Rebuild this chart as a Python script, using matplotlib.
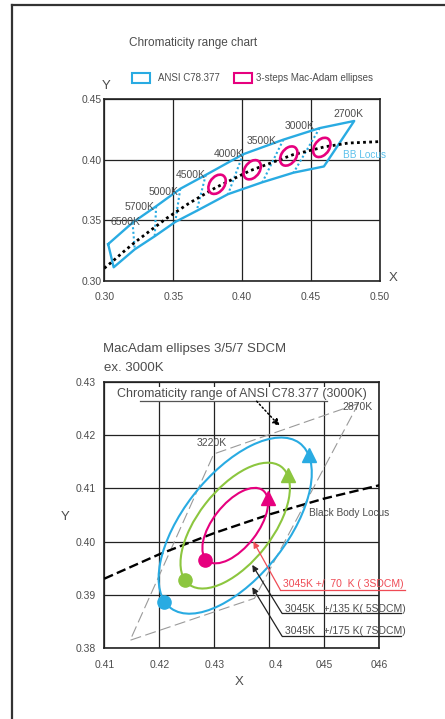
import matplotlib.pyplot as plt
from matplotlib.patches import Ellipse, Rectangle
from matplotlib.lines import Line2D
import matplotlib.transforms as mtransforms

plt.rcParams['font.family'] = ['Liberation Sans', 'DejaVu Sans']

W, H = 445, 719
BLUE = '#29abe2'
MAGENTA = '#e6007e'
GREEN = '#8cc63f'
RED = '#ef4b55'
TXT = '#4d4d4d'

# --- top chart data: ANSI C78.377 quadrangles (shared boundary points) ---
upper_x = [0.3028, 0.3205, 0.3376, 0.3551, 0.3736, 0.4006, 0.4299, 0.4562, 0.4813]
upper_y = [0.3304, 0.3481, 0.3616, 0.3760, 0.3874, 0.4044, 0.4165, 0.4260, 0.4319]
lower_x = [0.3068, 0.3221, 0.3366, 0.3515, 0.3670, 0.3898, 0.4147, 0.4373, 0.4593]
lower_y = [0.3113, 0.3261, 0.3369, 0.3487, 0.3578, 0.3716, 0.3814, 0.3893, 0.3944]
cct_labels = ['6500K', '5700K', '5000K', '4500K', '4000K', '3500K', '3000K', '2700K']
cct_lab_x = [0.3150, 0.3258, 0.3426, 0.3630, 0.3905, 0.4138, 0.4418, 0.4768]
cct_lab_y = [0.3484, 0.3610, 0.3734, 0.3874, 0.4044, 0.4151, 0.4280, 0.4374]

# planckian locus
bb_x = [0.3000, 0.3064, 0.3135, 0.3221, 0.3325, 0.3451, 0.3611, 0.3805, 0.4053, 0.4369, 0.4599, 0.4770, 0.5018]
bb_y = [0.3105, 0.3166, 0.3237, 0.3318, 0.3408, 0.3516, 0.3638, 0.3768, 0.3907, 0.4041, 0.4106, 0.4137, 0.4150]

# 3-step ellipses as drawn in the top chart (4000K, 3500K, 3000K, 2700K)
ell_cx = [0.3818, 0.4073, 0.4338, 0.4578]
ell_cy = [0.3797, 0.3917, 0.4030, 0.4101]
top_ell_a = [0.0085, 0.0085, 0.0085, 0.0085]
top_ell_b = [0.0055, 0.0055, 0.0055, 0.0055]
top_ell_ang = [62, 62, 62, 62]

# --- bottom chart data: 3000K ---
mac_a, mac_b, mac_ang = 0.00278, 0.00136, 53.22   # 1-step MacAdam, 3000K
quad_x = [0.4562, 0.4299, 0.4147, 0.4373, 0.4562]
quad_y = [0.4260, 0.4165, 0.3814, 0.3893, 0.4260]
steps = [7, 5, 3]
step_colors = [BLUE, GREEN, MAGENTA]
dot_x = [0.42084, 0.42459, 0.42834]
dot_y = [0.38869, 0.39270, 0.39651]
tri_x = [0.44729, 0.44348, 0.43973]
tri_y = [0.41634, 0.41259, 0.40814]
bb2_x = [0.41, 0.42, 0.43, 0.44, 0.45, 0.46]
bb2_y = [0.3930, 0.3976, 0.4016, 0.4051, 0.4081, 0.4106]
x2_ticks = [0.41, 0.42, 0.43, 0.44, 0.45, 0.46]
x2_labels = ['0.41', '0.42', '0.43', '0.4', '045', '046']
y2_ticks = [0.38, 0.39, 0.40, 0.41, 0.42, 0.43]
notes = ['3045K +/  70  K ( 3SDCM)', '3045K   +/135 K( 5SDCM)', '3045K   +/175 K( 7SDCM)']
note_colors = [RED, TXT, TXT]
note_tip_x = [0.4371, 0.4369, 0.4369]
note_tip_y = [0.4000, 0.3956, 0.3914]
note_elb_x = [0.4420, 0.4423, 0.4423]
note_elb_y = [0.3909, 0.3865, 0.3822]
note_end_x = [0.4646, 0.4640, 0.4640]
note_txt_y = [0.39204, 0.38735, 0.38315]

fig = plt.figure(figsize=(W / 100, H / 100), dpi=100)

# frame
fig.add_artist(Line2D([12 / W, 12 / W], [0, 1 - 5 / H], color='#333333', lw=1.6))
fig.add_artist(Line2D([12 / W, 1], [1 - 5 / H, 1 - 5 / H], color='#333333', lw=1.6))


def style_axes(ax):
    for s in ax.spines.values():
        s.set_linewidth(1.2)
        s.set_color('#222222')
    ax.grid(True, color='#222222', lw=0.9)
    ax.set_axisbelow(True)
    ax.tick_params(length=0, labelsize=7.5, labelcolor=TXT)


# ---------------- top chart ----------------
ax1 = fig.add_axes([104.3 / W, 1 - 281 / H, 275.7 / W, 182 / H])
style_axes(ax1)
ax1.set_xlim(0.30, 0.50)
ax1.set_ylim(0.30, 0.45)
ax1.set_xticks([0.30, 0.35, 0.40, 0.45, 0.50])
ax1.set_yticks([0.30, 0.35, 0.40, 0.45])
ax1.xaxis.set_major_formatter(plt.FormatStrFormatter('%.2f'))
ax1.yaxis.set_major_formatter(plt.FormatStrFormatter('%.2f'))
ax1.tick_params(axis='x', pad=8)
ax1.tick_params(axis='y', pad=2)

poly_x = upper_x + lower_x[::-1] + [upper_x[0]]
poly_y = upper_y + lower_y[::-1] + [upper_y[0]]
ax1.plot(poly_x, poly_y, color=BLUE, lw=1.7, zorder=3)
for i in range(1, len(upper_x) - 1):
    ax1.plot([upper_x[i], lower_x[i]], [upper_y[i], lower_y[i]], color=BLUE,
             lw=1.5, linestyle=(0, (1, 1.2)), zorder=3)
ax1.plot(bb_x, bb_y, color='black', lw=2.0, linestyle=(0, (1, 1.2)), zorder=4)
for cx, cy, a, b, ang in zip(ell_cx, ell_cy, top_ell_a, top_ell_b, top_ell_ang):
    ax1.add_patch(Ellipse((cx, cy), 2 * a, 2 * b, angle=ang, fill=False,
                          edgecolor=MAGENTA, lw=1.9, zorder=5))
for lab, lx, ly in zip(cct_labels, cct_lab_x, cct_lab_y):
    ax1.text(lx, ly, lab, ha='center', va='center', fontsize=7.5, color=TXT, zorder=6)
ax1.text(0.4732, 0.4038, 'BB Locus', ha='left', va='center', fontsize=7.2, color='#5bc0eb')

fig.text(129 / W, 1 - 43 / H, 'Chromaticity range chart', ha='left', va='center',
         fontsize=8.5, color=TXT)
fig.add_artist(Rectangle((132 / W, 1 - 83 / H), 18 / W, 10 / H, fill=False,
                         edgecolor=BLUE, lw=1.5, transform=fig.transFigure))
fig.text(158 / W, 1 - 78 / H, 'ANSI C78.377', ha='left', va='center', fontsize=7, color=TXT)
fig.add_artist(Rectangle((234 / W, 1 - 83 / H), 18 / W, 10 / H, fill=False,
                         edgecolor=MAGENTA, lw=1.5, transform=fig.transFigure))
fig.text(256 / W, 1 - 78 / H, '3-steps Mac-Adam ellipses', ha='left', va='center',
         fontsize=7, color=TXT)
fig.text(106 / W, 1 - 86 / H, 'Y', ha='center', va='center', fontsize=9.5, color=TXT)
fig.text(393 / W, 1 - 278 / H, 'X', ha='center', va='center', fontsize=9.5, color=TXT)

# ---------------- bottom chart ----------------
ax2 = fig.add_axes([104.3 / W, 1 - 647.7 / H, 275.0 / W, 265.4 / H])
style_axes(ax2)
ax2.set_xlim(0.41, 0.46)
ax2.set_ylim(0.38, 0.43)
ax2.set_xticks(x2_ticks)
ax2.set_xticklabels(x2_labels)
ax2.set_yticks(y2_ticks)
ax2.yaxis.set_major_formatter(plt.FormatStrFormatter('%.2f'))
ax2.tick_params(axis='x', pad=9)
ax2.tick_params(axis='y', pad=6)
lab44 = ax2.get_xticklabels()[3]
lab44.set_transform(lab44.get_transform() + mtransforms.ScaledTranslation(7 / 100, 0, fig.dpi_scale_trans))

ax2.plot(quad_x, quad_y, color='#9a9a9a', lw=0.8, linestyle=(0, (10, 4)), zorder=2)
ax2.plot(bb2_x, bb2_y, color='black', lw=1.7, linestyle=(0, (4, 1.8)), zorder=3)
for n, col, dx, dy, tx, ty in zip(steps, step_colors, dot_x, dot_y, tri_x, tri_y):
    ax2.add_patch(Ellipse((ell_cx[2], ell_cy[2]), 2 * n * mac_a, 2 * n * mac_b,
                          angle=mac_ang, fill=False, edgecolor=col, lw=1.5, zorder=4))
    ax2.plot(dx, dy, 'o', color=col, ms=9.5, zorder=5)
    ax2.plot(tx, ty, '^', color=col, ms=10.5, zorder=5)

ax2.text(0.4351, 0.42781, 'Chromaticity range of ANSI C78.377 (3000K)', ha='center',
         va='center', fontsize=9, color=TXT, zorder=6,
         bbox=dict(facecolor='white', edgecolor='none', pad=0.6))
ax2.plot([0.4165, 0.4504], [0.42644, 0.42644], color='#555555', lw=0.9, zorder=7)
ax2.annotate('', xy=(0.4419, 0.42174), xytext=(0.4377, 0.42644),
             arrowprops=dict(arrowstyle='-|>', color='black', lw=1.1, linestyle=':',
                             mutation_scale=10, shrinkA=0, shrinkB=0), zorder=7)
ax2.text(0.42956, 0.41856, '3220K', ha='center', va='center', fontsize=7.5, color=TXT)
ax2.text(0.45608, 0.42537, '2870K', ha='center', va='center', fontsize=7.5, color=TXT)
ax2.text(0.44723, 0.40542, 'Black Body Locus', ha='left', va='center', fontsize=7.3, color=TXT)

for txt, col, tpx, tpy, ex, ey, endx, ty in zip(notes, note_colors, note_tip_x, note_tip_y,
                                                 note_elb_x, note_elb_y, note_end_x, note_txt_y):
    lc = RED if col == RED else '#222222'
    ax2.annotate('', xy=(tpx, tpy), xytext=(ex, ey),
                 arrowprops=dict(arrowstyle='-|>', color=lc, lw=0.9, mutation_scale=9,
                                 shrinkA=0, shrinkB=0), zorder=7, annotation_clip=False)
    ax2.plot([ex, endx], [ey, ey], color=lc, lw=0.9, clip_on=False, zorder=7)
    ax2.text(ex + 0.0005, ty, txt, ha='left', va='center', fontsize=7.5, color=col,
             clip_on=False, zorder=7)

fig.text(102.7 / W, 1 - 349 / H, 'MacAdam ellipses 3/5/7 SDCM', ha='left', va='center',
         fontsize=9.5, color=TXT)
fig.text(104 / W, 1 - 367.7 / H, 'ex. 3000K', ha='left', va='center', fontsize=9.5, color=TXT)
fig.text(65 / W, 1 - 516.7 / H, 'Y', ha='center', va='center', fontsize=9.5, color=TXT)
fig.text(239 / W, 1 - 681.7 / H, 'X', ha='center', va='center', fontsize=9.5, color=TXT)

fig.savefig('out.png', dpi=100)
